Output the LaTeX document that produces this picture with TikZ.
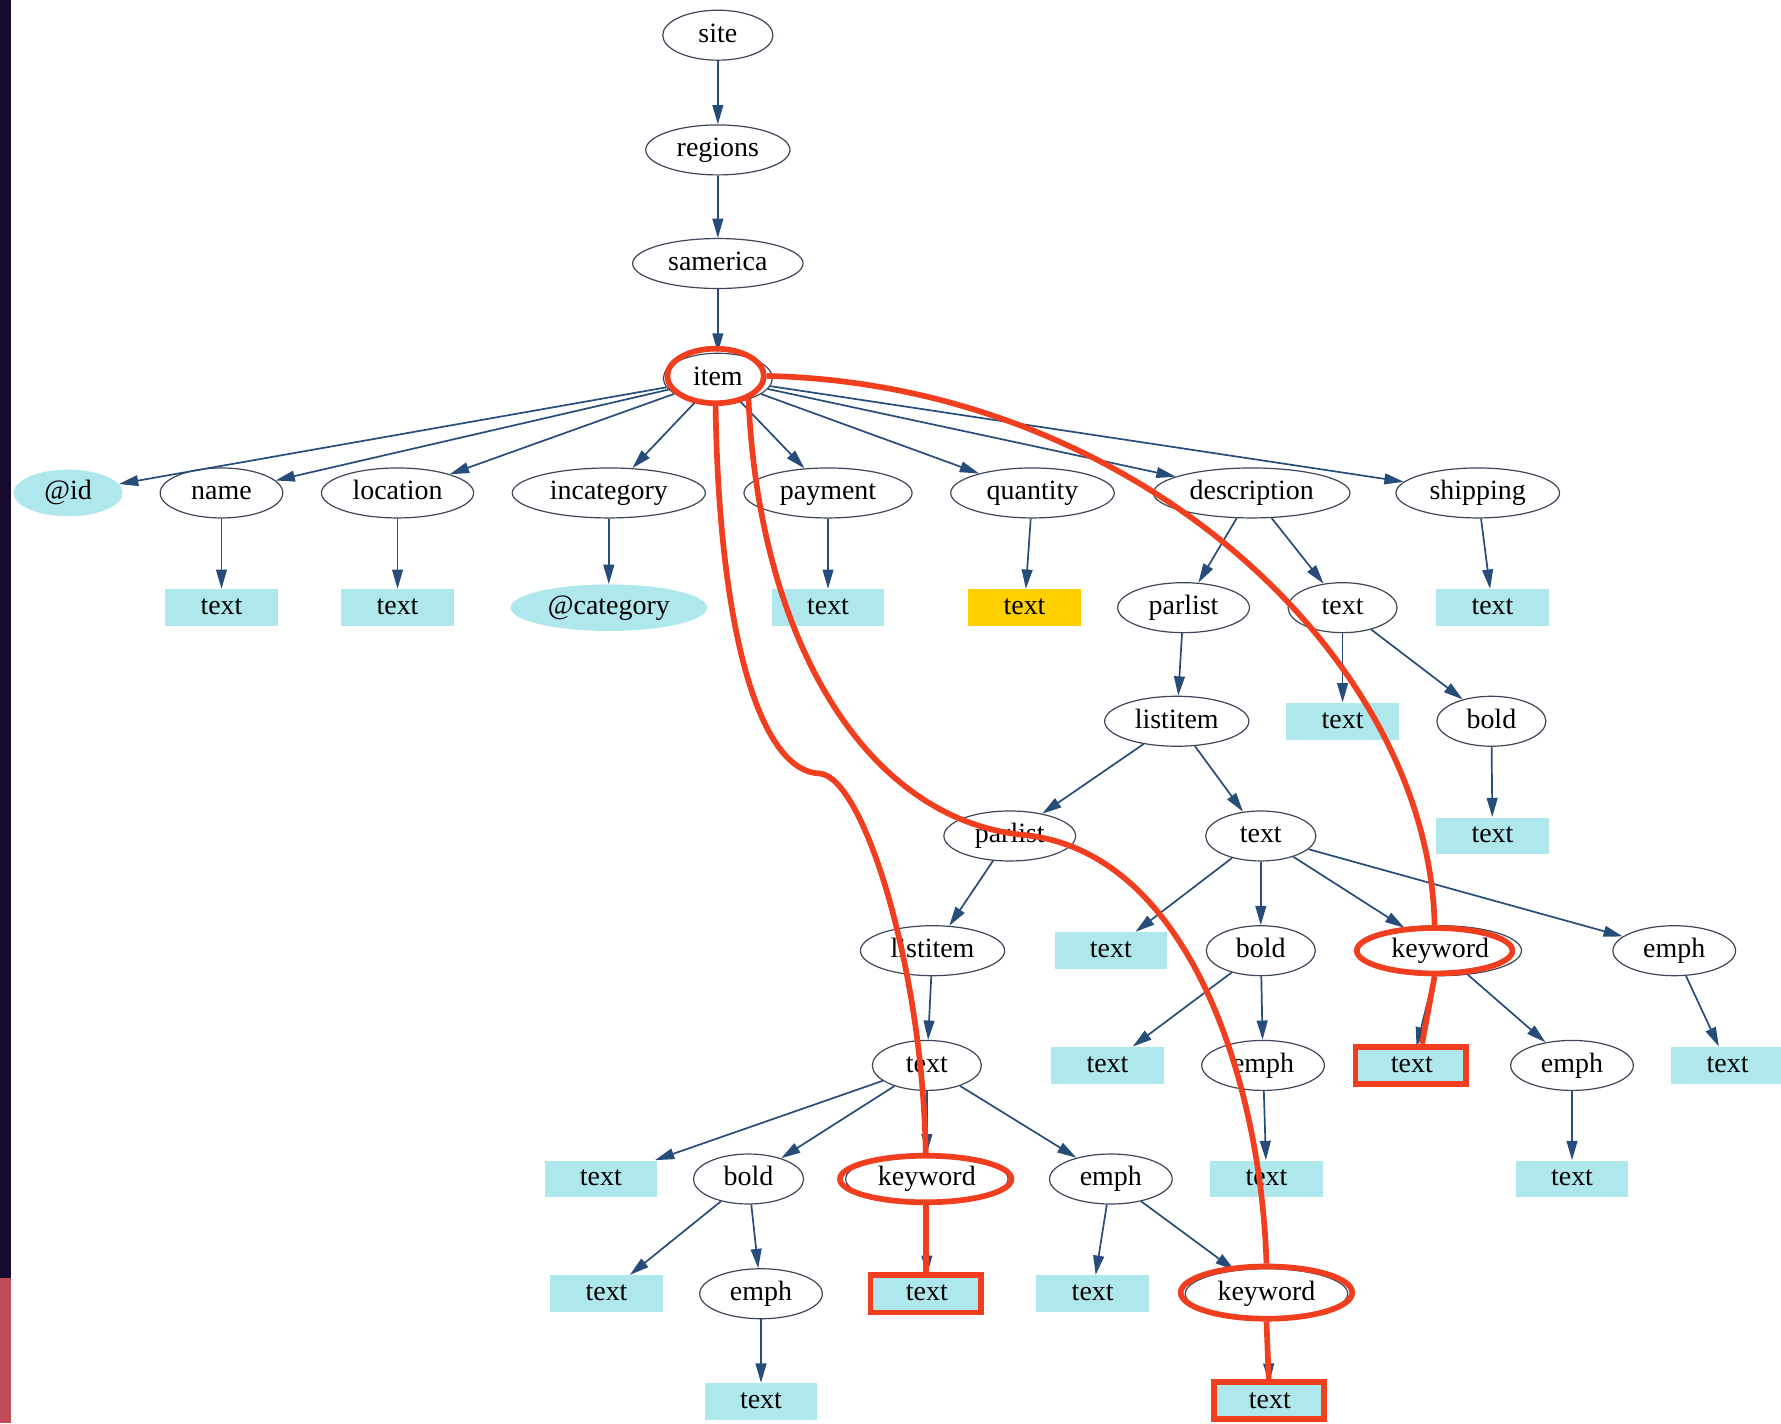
\documentclass[tikz,border=0pt]{standalone}
\usepackage{fontspec}
\setmainfont{Liberation Serif}
\usetikzlibrary{shapes.geometric,arrows.meta}
\definecolor{edgeblue}{RGB}{38,76,122}
\definecolor{rimgray}{RGB}{60,70,88}
\definecolor{leafcyan}{RGB}{175,232,236}
\definecolor{leafgold}{RGB}{255,208,0}
\definecolor{markred}{RGB}{240,62,30}
\definecolor{barpurple}{RGB}{21,10,44}
\definecolor{barred}{RGB}{194,75,90}
\tikzset{
  every node/.style={font=\fontsize{14}{16}\selectfont, text height=1.9ex, text depth=0.4ex},
  tag/.style={ellipse, draw=rimgray, line width=0.6pt, fill=white, inner sep=1pt,
    minimum height=0.88cm, minimum width=#1*0.02cm},
  tag/.default=97,
  attr/.style={ellipse, fill=leafcyan, inner sep=1pt, minimum height=0.82cm, minimum width=#1*0.02cm},
  leaf/.style={rectangle, fill=leafcyan, inner sep=1pt, minimum width=1.98cm, minimum height=0.65cm},
  goldleaf/.style={leaf, fill=leafgold},
  link/.style={draw=edgeblue, line width=0.85pt, -{Triangle[length=0.34cm,width=0.19cm]}},
  hilite/.style={draw=markred, line width=0.1cm},
  ring/.style 2 args={ellipse, draw=markred, line width=0.1cm, inner sep=0pt,
    minimum width=#1*0.02cm, minimum height=#2*0.02cm},
  redbox/.style={rectangle, draw=markred, line width=0.1cm, inner sep=0pt,
    minimum width=1.94cm, minimum height=0.66cm},
}
\begin{document}
\begin{tikzpicture}[x=0.02cm,y=-0.02cm]
\useasboundingbox (0,0) rectangle (1568,1253);
\fill[white] (0,0) rectangle (1568,1253);
\fill[barpurple] (0,0) rectangle (10,1125);
\fill[barred] (0,1125) rectangle (10,1253);

% spine
\node[tag] (site) at (632,31) {site};
\node[tag=127] (regions) at (632,132) {regions};
\node[tag=150] (samerica) at (632,232) {samerica};
\node[tag=96] (item) at (632,333) {item};

% children of item
\node[attr=96] (id) at (60,434) {@id};
\node[tag=108] (name) at (195,434) {name};
\node[tag=134] (location) at (350,434) {location};
\node[tag=170] (incat) at (536,434) {incategory};
\node[tag=148] (payment) at (729,434) {payment};
\node[tag=144] (quantity) at (909,434) {quantity};
\node[tag=173] (descr) at (1102,434) {description};
\node[tag=144] (shipping) at (1301,434) {shipping};

\node[leaf] (nameT) at (195,535) {text};
\node[leaf] (locT) at (350,535) {text};
\node[attr=173] (category) at (536,535) {@category};
\node[leaf] (payT) at (729,535) {text};
\node[goldleaf] (qtyT) at (902,535) {text};
\node[tag=116] (dparlist) at (1042,535) {parlist};
\node[tag=96] (dtext) at (1182,535) {text};
\node[leaf] (shipT) at (1314,535) {text};

\node[tag=127] (dlistitem) at (1036,635) {listitem};
\node[leaf] (dtextT) at (1182,635) {text};
\node[tag=96] (dbold) at (1313,635) {bold};

\node[tag=116] (pparlist) at (889,736) {parlist};
\node[tag=97] (ltext) at (1110,736) {text};
\node[leaf] (boldT) at (1314,736) {text};

\node[tag=127] (plistitem) at (821,837) {listitem};
\node[leaf] (ltextT) at (978,837) {text};
\node[tag=96] (lbold) at (1110,837) {bold};
\node[tag=143] (kwC) at (1268,837) {keyword};
\node[tag=108] (lemph) at (1474,837) {emph};

\node[tag=96] (ptext) at (816,938) {text};
\node[leaf] (lboldT) at (975,938) {text};
\node[tag=108] (lbemph) at (1112,938) {emph};
\node[leaf] (kwCT) at (1243,938) {text};
\node[tag=108] (kcemph) at (1384,938) {emph};
\node[leaf] (lemphT) at (1521,938) {text};

\node[leaf] (ptextT) at (529,1038) {text};
\node[tag=97] (pbold) at (659,1038) {bold};
\node[tag=143] (kwA) at (816,1038) {keyword};
\node[tag=108] (pemph) at (978,1038) {emph};
\node[leaf] (lbeT) at (1115,1038) {text};
\node[leaf] (kceT) at (1384,1038) {text};

\node[leaf] (pboldT) at (534,1139) {text};
\node[tag=108] (pbemph) at (670,1139) {emph};
\node[leaf] (kwAT) at (816,1139) {text};
\node[leaf] (pemphT) at (962,1139) {text};
\node[tag=143] (kwB) at (1115,1139) {keyword};

\node[leaf] (pbeT) at (670,1234) {text};
\node[leaf] (kwBT) at (1118,1234) {text};

\foreach \a/\b in {site/regions, regions/samerica, samerica/item,
    item/id, item/name, item/location, item/incat, item/payment, item/quantity,
    item/descr, item/shipping,
    name/nameT, location/locT, incat/category, payment/payT, quantity/qtyT,
    descr/dparlist, descr/dtext, shipping/shipT,
    dparlist/dlistitem, dtext/dtextT, dtext/dbold, dbold/boldT,
    dlistitem/pparlist, dlistitem/ltext, pparlist/plistitem,
    ltext/ltextT, ltext/lbold, ltext/kwC, ltext/lemph,
    plistitem/ptext, lbold/lboldT, lbold/lbemph, kwC/kwCT, kwC/kcemph, lemph/lemphT,
    ptext/ptextT, ptext/pbold, ptext/kwA, ptext/pemph,
    lbemph/lbeT, kcemph/kceT, pbold/pboldT, pbold/pbemph, kwA/kwAT,
    pemph/pemphT, pemph/kwB, pbemph/pbeT, kwB/kwBT}
  \draw[link] (\a) -- (\b);

% red marks
\node[ring={85}{48}] (itemring) at (630,331) {};
\node[ring={137}{40}] (kwCring) at (1263,837) {};
\node[ring={151}{41}] (kwAring) at (815,1038) {};
\node[ring={151}{46}] (kwBring) at (1115,1138) {};
\node[redbox] (kwCbox) at (1242,938) {};
\node[redbox] (kwAbox) at (815,1139) {};
\node[redbox] (kwBbox) at (1117,1233) {};

\draw[hilite] (itemring.south) .. controls (633,560) and (670,680) .. (722,681)
  .. controls (760,685) and (812,850) .. (kwAring.north);
\draw[hilite] (itemring.-35) .. controls (668,560) and (760,720) .. (900,735)
  .. controls (1045,748) and (1110,950) .. (kwBring.north);
\draw[hilite] (itemring.east) .. controls (1000,338) and (1258,580) .. (kwCring.north);
\draw[hilite] (kwCring.south) -- ([xshift=0.2cm]kwCbox.north);
\draw[hilite] (kwAring.south) -- (kwAbox.north);
\draw[hilite] (kwBring.south) -- (kwBbox.north);
\end{tikzpicture}
\end{document}
